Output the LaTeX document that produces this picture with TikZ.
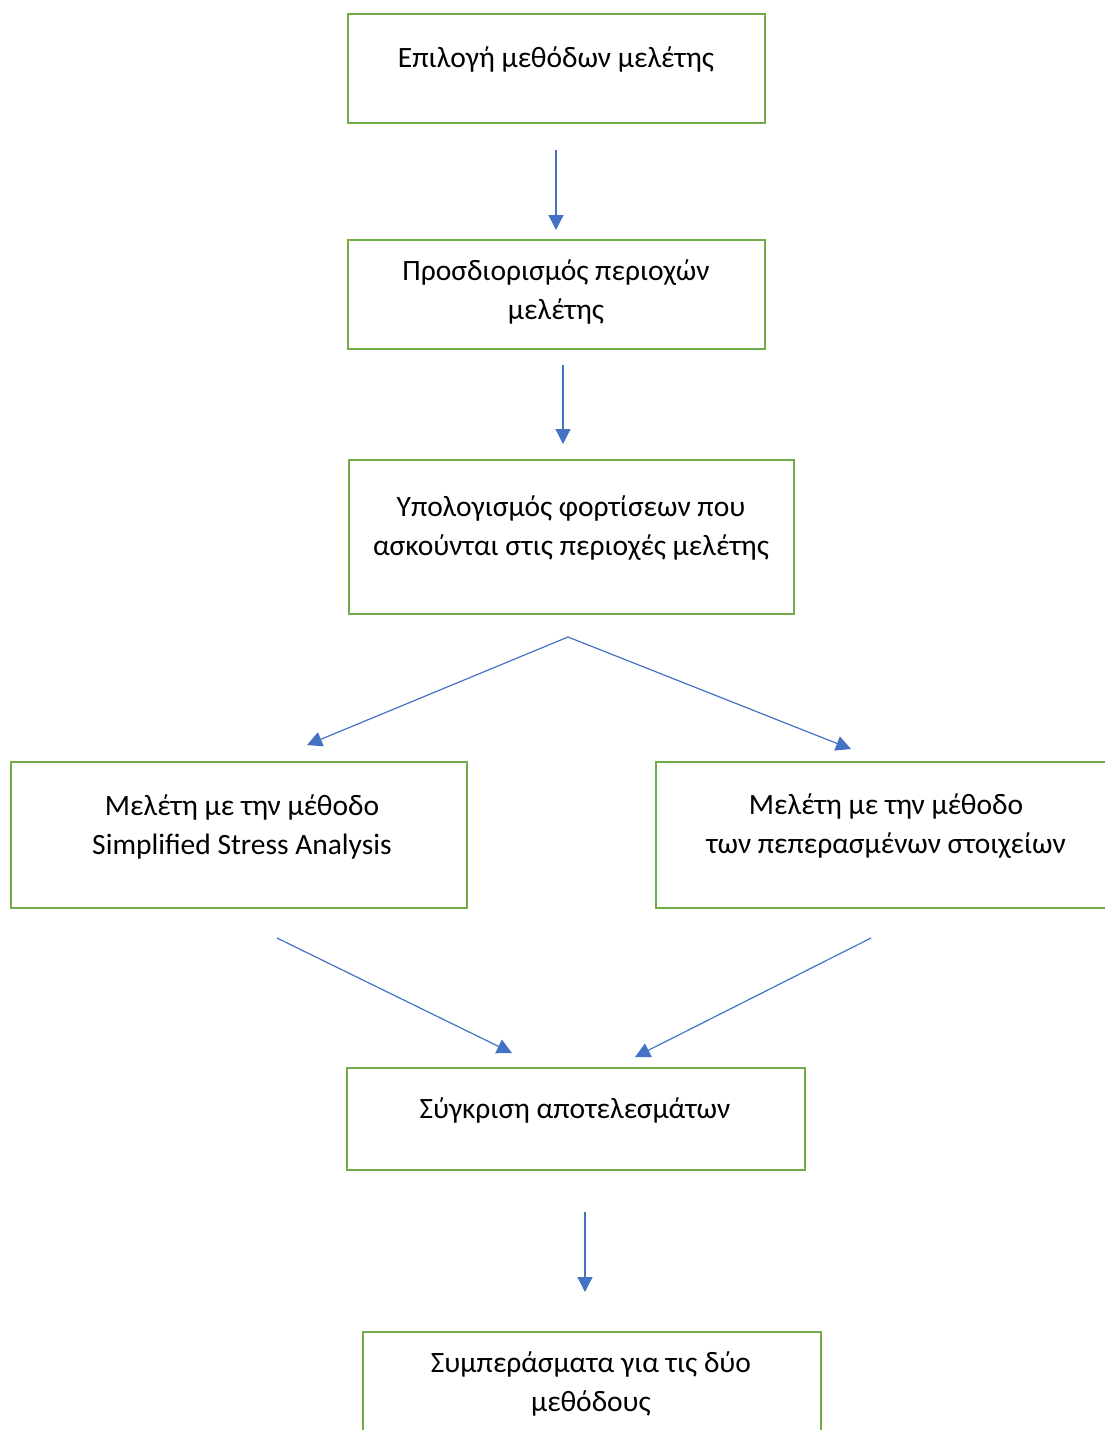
\documentclass[tikz,border=0pt]{standalone}
\usepackage{fontspec}
\setmainfont{Carlito}
\usetikzlibrary{arrows.meta,positioning}
\definecolor{boxgreen}{RGB}{112,173,71}
\definecolor{arrowblue}{RGB}{68,114,196}

\begin{document}
\begin{tikzpicture}[x=1pt,y=-1pt,
    box/.style={draw=boxgreen, line width=2.4pt, rectangle, inner sep=0pt},
    lbl/.style={align=center, inner sep=0pt, font=\fontsize{29.5}{39}\selectfont},
    flow/.style={draw=arrowblue, line width=1.2pt, -{Triangle[length=15pt,width=15pt]}}]

    \useasboundingbox (0,0) rectangle (1104,1430);

    % boxes
    \node[box, minimum width=417pt, minimum height=109pt] (select) at (556.5,68.5) {};
    \node[box, minimum width=417pt, minimum height=109pt] (areas) at (556.5,294.5) {};
    \node[box, minimum width=445pt, minimum height=154pt] (loads) at (571.5,537) {};
    \node[box, minimum width=456pt, minimum height=146pt] (ssa) at (239,835) {};
    \node[box, minimum width=460pt, minimum height=146pt] (fem) at (886,835) {};
    \node[box, minimum width=458pt, minimum height=102pt] (compare) at (576,1119) {};
    \node[box, minimum width=458pt, minimum height=110pt] (concl) at (592,1387) {};

    % texts
    \node[lbl] (selectT) at (556,59) {Επιλογή μεθόδων μελέτης};
    \node[lbl] (areasT) at (556,291.5) {Προσδιορισμός περιοχών\\μελέτης};
    \node[lbl] (loadsT) at (571,528.5) {Υπολογισμός φορτίσεων που\\ασκούνται στις περιοχές μελέτης};
    \node[lbl] (ssaT) at (242,826.5) {Μελέτη με την μέθοδο\\Simplified Stress Analysis};
    \node[lbl] (femT) at (886,826.5) {Μελέτη με την μέθοδο\\των πεπερασμένων στοιχείων};
    \node[lbl] (compareT) at (575,1110) {Σύγκριση αποτελεσμάτων};
    \node[lbl] (conclT) at (591,1384) {Συμπεράσματα για τις δύο\\μεθόδους};

    % arrow ends
    \coordinate (a1s) at (556,150);
    \coordinate (a1e) at (556,230);
    \coordinate (a2s) at (563,365);
    \coordinate (a2e) at (563,444);
    \coordinate (split) at (568,637);
    \coordinate (toSsa) at (307,745);
    \coordinate (toFem) at (851,749);
    \coordinate (fromSsa) at (277,938);
    \coordinate (fromFem) at (871,938);
    \coordinate (inL) at (512,1053);
    \coordinate (inR) at (635,1057);
    \coordinate (a3s) at (585,1212);
    \coordinate (a3e) at (585,1292);

    \draw[flow] (a1s) -- (a1e);
    \draw[flow] (a2s) -- (a2e);
    \draw[flow] (split) -- (toSsa);
    \draw[flow] (split) -- (toFem);
    \draw[flow] (fromSsa) -- (inL);
    \draw[flow] (fromFem) -- (inR);
    \draw[flow] (a3s) -- (a3e);

\end{tikzpicture}
\end{document}
